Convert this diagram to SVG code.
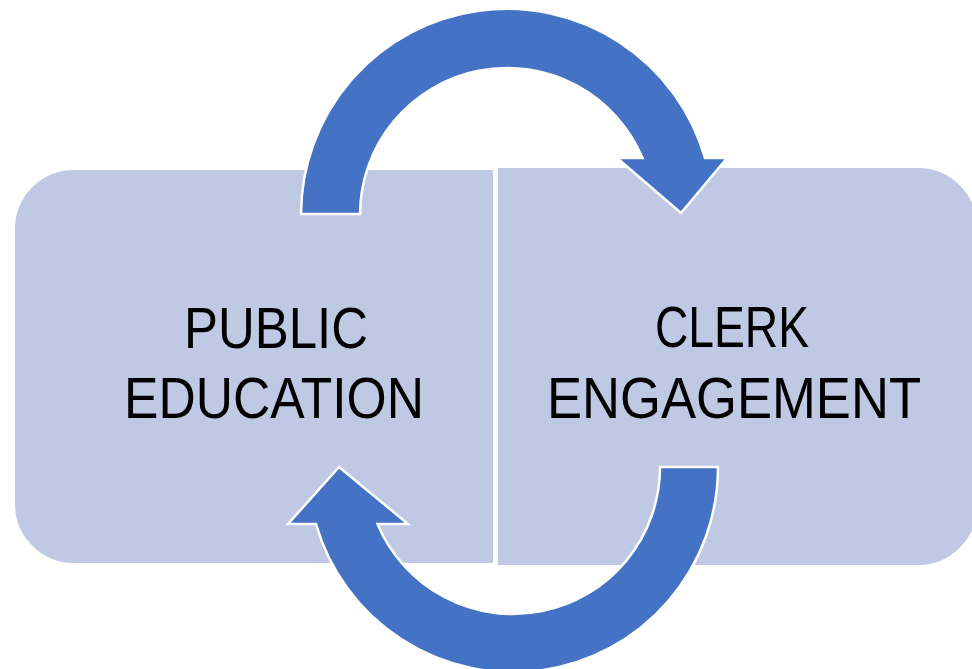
<svg xmlns="http://www.w3.org/2000/svg" width="972" height="669" viewBox="0 0 972 669">
<style>
.box{fill:#BFC9E4;stroke:#FFFFFF;stroke-width:2}
.arrow{fill:#4472C4;stroke:#FFFFFF;stroke-width:2.5;stroke-linejoin:miter}
.lbl{font-family:"Liberation Sans",Arial,sans-serif;font-size:57px;fill:#000000;text-anchor:middle}
</style>
<rect width="972" height="669" fill="#FFFFFF"/>
<g id="node-public-education">
<path class="box" d="M 494,169 L 494,564 L 74,564 A 60 60 0 0 1 14,504 L 14,229 A 60 60 0 0 1 74,169 Z"/>
<text class="lbl" x="276" y="348" textLength="184" lengthAdjust="spacingAndGlyphs">PUBLIC</text>
<text class="lbl" x="274" y="418" textLength="300" lengthAdjust="spacingAndGlyphs">EDUCATION</text>
</g>
<g id="node-clerk-engagement">
<path class="box" d="M 497,167 L 918,167 A 60 60 0 0 1 978,227 L 978,506 A 60 60 0 0 1 918,566 L 497,566 Z"/>
<text class="lbl" x="732" y="347" textLength="154" lengthAdjust="spacingAndGlyphs">CLERK</text>
<text class="lbl" x="734" y="418" textLength="374" lengthAdjust="spacingAndGlyphs">ENGAGEMENT</text>
</g>
<g id="connectors">
<path id="arrow-top" class="arrow" d="M 301,214 A 206 206 0 0 1 705,158 L 727,158 L 681,213 L 617,158 L 642.5,158 A 147 147 0 0 0 360,214 Z"/>
<path id="arrow-bottom" class="arrow" d="M 660,467 L 718,467 A 205 205 0 0 1 316,524 L 288,524 L 339,467 L 408,524 L 377.5,524 A 147 147 0 0 0 660,467 Z"/>
</g>
</svg>
